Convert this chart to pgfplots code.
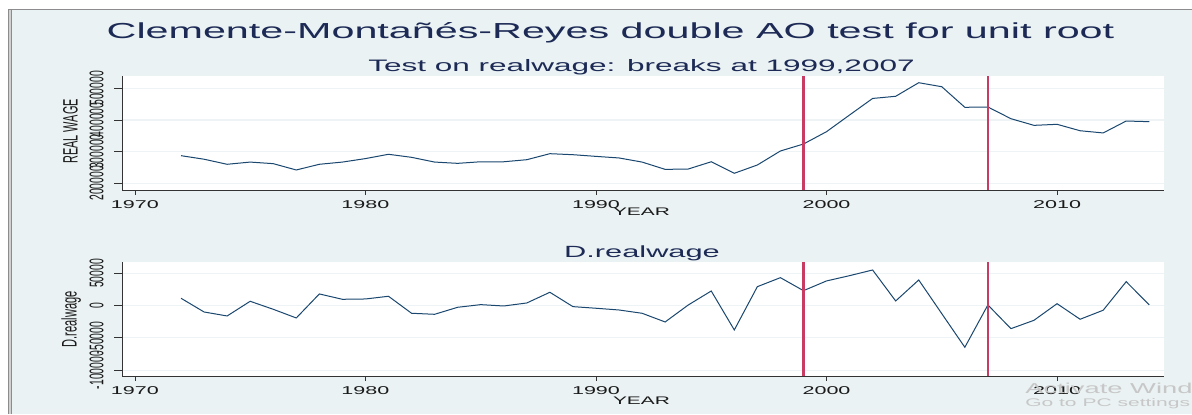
\documentclass[border=0pt]{standalone}
\usepackage{fontspec}
\usepackage{pgfplots}
\pgfplotsset{compat=1.18}
\newfontfamily\wide[FakeStretch=1.9]{Liberation Sans}
\newfontfamily\narrow[FakeStretch=0.526]{Liberation Sans}
\definecolor{bgc}{HTML}{EAF2F3}
\definecolor{gridc}{HTML}{EEF4F5}
\definecolor{navy}{HTML}{1A476F}
\definecolor{titc}{HTML}{1C2A55}
\definecolor{tickc}{HTML}{1A1A1A}
\definecolor{brk}{HTML}{C83C64}
\newcommand{\fs}[1]{\fontsize{#1}{#1}\selectfont}
\pgfplotsset{
  cmr/.style={
    scale only axis, width=781.5pt,
    xmin=1969.44, xmax=2014.64,
    axis lines=left, axis line style={-, black!80, line width=0.7pt},
    axis background/.style={fill=white},
    xtick={1970,1980,1990,2000,2010},
    xticklabels={1970,1980,1990,2000,2010},
    scaled y ticks=false, scaled x ticks=false,
    tick align=outside,
    xtick style={black!80, line width=0.6pt, /pgfplots/major tick length=3.75pt},
    ytick style={black!80, line width=0.6pt, /pgfplots/major tick length=6pt},
    ymajorgrids, grid style={gridc, line width=0.8pt},
    xticklabel style={font=\wide\fs{8.5pt}, text=tickc},
    yticklabel style={font=\narrow\fs{14.8pt}, text=tickc, rotate=90, anchor=south},
    yticklabel shift=6pt,
  },
  dataline/.style={navy, line width=0.75pt, mark=none},
  brkline/.style={brk, line width=1.8pt, mark=none},
}
\begin{document}
\begin{tikzpicture}[x=0.75pt, y=0.75pt]
\useasboundingbox (0,0) rectangle (1192,414);
\fill[white] (0,0) rectangle (1192,414);
\fill[bgc] (12,0) rectangle (1192,404.5);
\fill[black!18] (8,0) rectangle (12,404.5);
\draw[black!45, line width=0.75pt] (8.3,0) -- (8.3,404.5) -- (1192,404.5);
\draw[black!45, line width=0.75pt] (11.7,0) -- (11.7,404.5);

\begin{axis}[cmr, at={(91.5pt,168pt)}, anchor=south west, height=85.5pt,
  ymin=178800, ymax=538900,
  ytick={200000,300000,400000,500000},
  yticklabels={200000,300000,400000,500000}]
\addplot[dataline] coordinates {
(1972,287200) (1973,276000) (1974,260000) (1975,267000) (1976,262000)
(1977,242000) (1978,260000) (1979,267000) (1980,278000) (1981,291600)
(1982,282000) (1983,267000) (1984,263000) (1985,268000) (1986,268000)
(1987,274500) (1988,293500) (1989,290300) (1990,285000) (1991,280000)
(1992,267000) (1993,244000) (1994,245000) (1995,268000) (1996,231600)
(1997,257800) (1998,302000) (1999,324000) (2000,363000) (2001,415700)
(2002,468000) (2003,474800) (2004,517700) (2005,505000) (2006,440000)
(2007,441000) (2008,404000) (2009,383000) (2010,386300) (2011,366000)
(2012,359000) (2013,396700) (2014,394600)};
\addplot[brkline] coordinates {(1999,178800) (1999,538900)};
\addplot[brkline] coordinates {(2007,178800) (2007,538900)};
\end{axis}

\begin{axis}[cmr, at={(91.5pt,28.5pt)}, anchor=south west, height=85.3pt,
  ymin=-109200, ymax=67400,
  ytick={-100000,-50000,0,50000},
  yticklabels={-100000,-50000,0,50000}]
\addplot[dataline] coordinates {
(1972,11500) (1973,-9800) (1974,-16000) (1975,6800) (1976,-5600)
(1977,-19100) (1978,18200) (1979,9900) (1980,10400) (1981,14600)
(1982,-11800) (1983,-13400) (1984,-2500) (1985,1600) (1986,-500)
(1987,4200) (1988,20800) (1989,-1500) (1990,-4000) (1991,-6700)
(1992,-11800) (1993,-25300) (1994,1000) (1995,22800) (1996,-37700)
(1997,29500) (1998,43500) (1999,23300) (2000,38400) (2001,46600)
(2002,55400) (2003,7300) (2004,39900) (2005,-12400) (2006,-64600)
(2007,1100) (2008,-35700) (2009,-22700) (2010,3100) (2011,-21100)
(2012,-7100) (2013,37300) (2014,1100)};
\addplot[brkline] coordinates {(1999,-109200) (1999,67400)};
\addplot[brkline] coordinates {(2007,-109200) (2007,67400)};
\end{axis}

\node[font=\wide\fs{16.3pt}, text=titc, anchor=base] at (610.5,375) {Clemente-Montañés-Reyes double AO test for unit root};
\node[font=\wide\fs{12.45pt}, text=titc, anchor=base] at (641.5,342.3) {Test on realwage: breaks at 1999,2007};
\node[font=\wide\fs{12.15pt}, text=titc, anchor=base] at (642,156.7) {D.realwage};
\node[font=\wide\fs{8.25pt}, text=tickc, anchor=base] at (641.5,198) {YEAR};
\node[font=\wide\fs{8.25pt}, text=tickc, anchor=base] at (641.5,10) {YEAR};
\node[font=\narrow\fs{15.6pt}, text=tickc, rotate=90, anchor=base] at (77.5,282.5) {REAL WAGE};
\node[font=\narrow\fs{15.8pt}, text=tickc, rotate=90, anchor=base] at (76.5,94.5) {D.realwage};

\begin{scope}
\clip (0,0) rectangle (1192,414);
\node[font=\wide\fs{10.8pt}, text=black!22, anchor=base west, inner sep=0pt] at (1025,21) {Activate Windows};
\node[font=\wide\fs{8.3pt}, text=black!22, anchor=base west, inner sep=0pt] at (1025,7.5) {Go to PC settings to activate Windows.};
\end{scope}
\end{tikzpicture}
\end{document}
